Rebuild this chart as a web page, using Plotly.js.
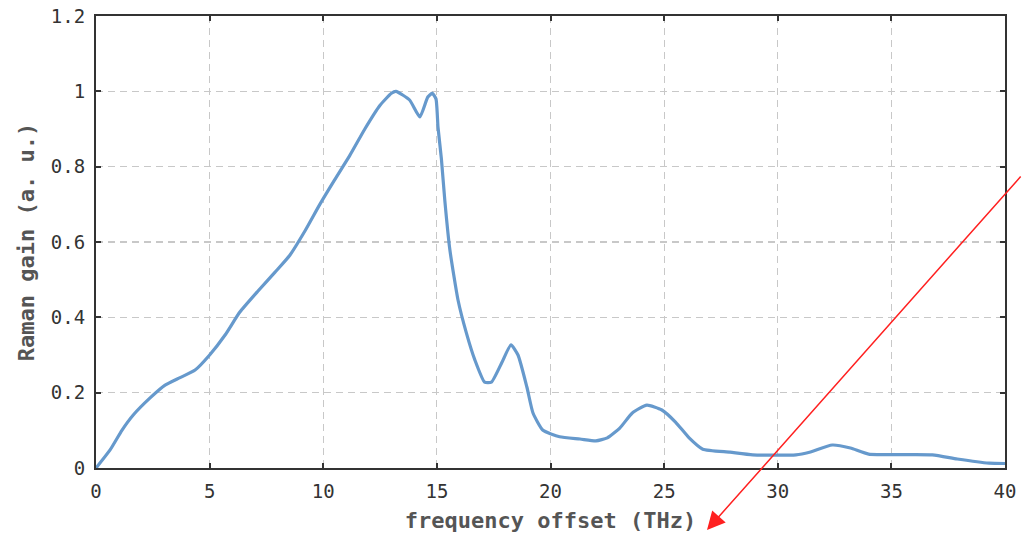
<!DOCTYPE html>
<html>
<head>
<meta charset="utf-8">
<script src="https://cdn.plot.ly/plotly-3.0.1.min.js"></script>
<style>html,body{margin:0;padding:0;background:#fff;}#chart{width:1022px;height:533px;}</style>
</head>
<body>
<div id="chart"></div>
<script>
const freq = [0, 0.62, 1.14, 1.63, 2.38, 3.04, 3.7, 4.36, 5.0, 5.68, 6.33, 7.13, 7.88, 8.53, 9.2, 9.85, 10.5, 11.17, 11.83, 12.5, 13.0, 13.2, 13.8, 14.25, 14.6, 14.8, 14.96, 15.05, 15.2, 15.35, 15.57, 15.93, 16.3, 16.67, 17.1, 17.4, 17.86, 18.26, 18.57, 18.96, 19.23, 19.67, 20.4, 21.3, 22.0, 22.5, 23.05, 23.6, 24.24, 24.9, 25.5, 26.1, 26.7, 27.9, 28.9, 30.8, 31.4, 32.4, 33.2, 34.0, 36.8, 37.9, 39.3, 40];
const gain = [0, 0.048, 0.10, 0.14, 0.186, 0.22, 0.24, 0.26, 0.30, 0.353, 0.414, 0.47, 0.52, 0.565, 0.63, 0.70, 0.765, 0.83, 0.90, 0.963, 0.995, 1.0, 0.977, 0.932, 0.985, 0.995, 0.98, 0.905, 0.82, 0.71, 0.58, 0.446, 0.358, 0.287, 0.228, 0.228, 0.28, 0.327, 0.30, 0.215, 0.146, 0.10, 0.083, 0.077, 0.072, 0.08, 0.106, 0.146, 0.167, 0.154, 0.122, 0.08, 0.05, 0.042, 0.035, 0.035, 0.042, 0.061, 0.053, 0.037, 0.035, 0.024, 0.013, 0.012];
const xTicks = [0, 5, 10, 15, 20, 25, 30, 35, 40];
const yTicks = [0, 0.2, 0.4, 0.6, 0.8, 1, 1.2];
const yTickText = ['0', '0.2', '0.4', '0.6', '0.8', '1', '1.2'];

const axisCommon = {
  showline: true, linecolor: '#333', linewidth: 2, mirror: 'ticks',
  ticks: 'inside', ticklen: 5, tickwidth: 2, tickcolor: '#333',
  showgrid: true, gridcolor: '#c8c8c8', gridwidth: 1.2, griddash: '7px,5px',
  zeroline: false, ticklabelstandoff: 5,
  tickfont: {family: 'DejaVu Sans Mono', size: 19, color: '#333'}
};
const titleFont = {family: 'DejaVu Sans Mono', size: 22, color: '#555', weight: 'bold'};

const layout = {
  width: 1022, height: 533,
  margin: {l: 96, r: 17, t: 16, b: 65},
  paper_bgcolor: '#fff', plot_bgcolor: '#fff',
  showlegend: false,
  xaxis: Object.assign({}, axisCommon, {
    range: [0, 40], tickvals: xTicks, ticktext: xTicks.map(String),
    title: {text: 'frequency offset (THz)', font: titleFont, standoff: 12}
  }),
  yaxis: Object.assign({}, axisCommon, {
    range: [0, 1.2], tickvals: yTicks, ticktext: yTickText,
    title: {text: 'Raman gain (a. u.)', font: titleFont, standoff: 10}
  }),
  annotations: [{
    xref: 'paper', yref: 'paper', x: (707 - 96) / 909, y: (468 - 530) / 452,
    ax: 315, ay: -355, axref: 'pixel', ayref: 'pixel',
    text: '', showarrow: true, arrowhead: 2, arrowsize: 2.4, arrowwidth: 1.5, arrowcolor: '#ff2020'
  }]
};

Plotly.newPlot('chart', [{
  x: freq, y: gain, type: 'scatter', mode: 'lines',
  line: {color: '#6699cc', width: 3.2, shape: 'spline', smoothing: 0.5},
  hoverinfo: 'skip'
}], layout, {displayModeBar: false, staticPlot: true});
</script>
</body>
</html>
